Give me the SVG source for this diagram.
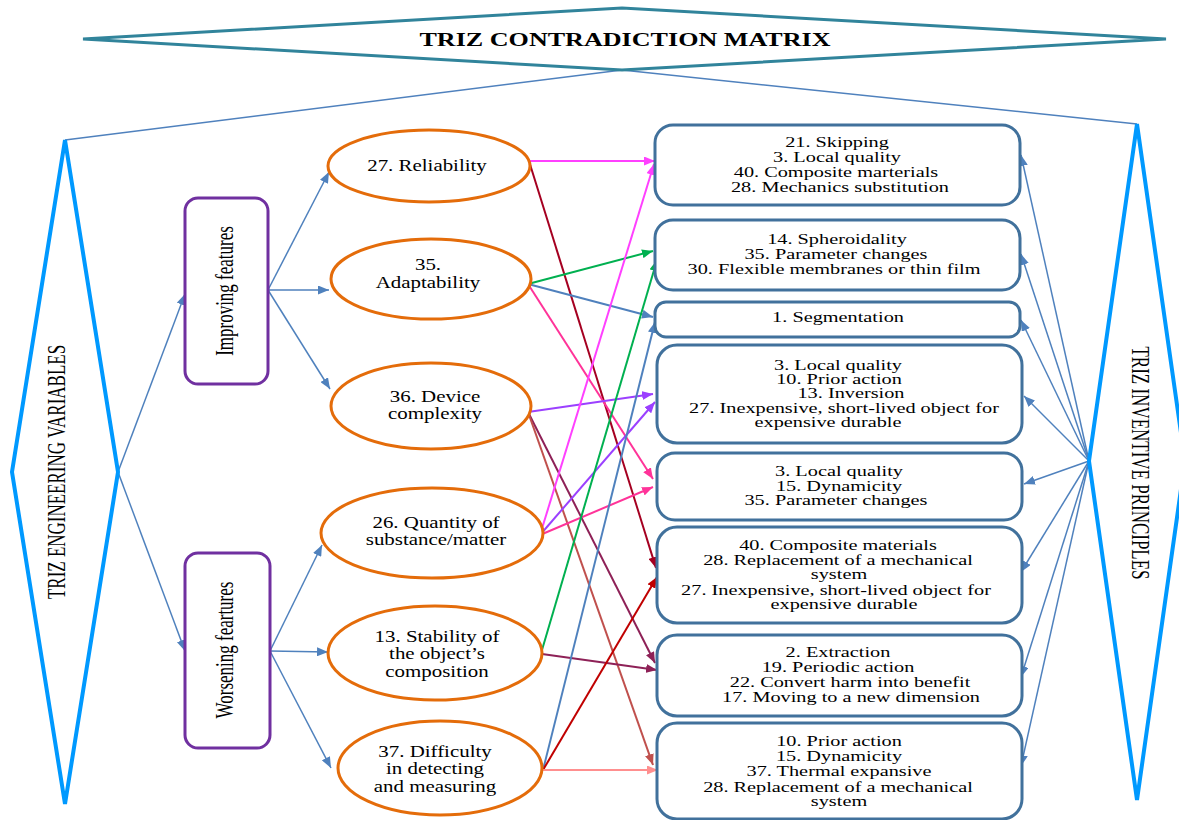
<svg xmlns="http://www.w3.org/2000/svg" width="1179" height="820" viewBox="0 0 1179 820">
<style>
text{font-family:"Liberation Serif","Times New Roman",serif;fill:#000}
.bt{font-family:"Liberation Serif","Times New Roman",serif;font-size:14px;text-anchor:middle}
.et{font-family:"Liberation Serif","Times New Roman",serif;font-size:17px;text-anchor:middle}
.vt{font-family:"Liberation Serif","Times New Roman",serif;font-size:17px;text-anchor:middle}
.ttl{font-family:"Liberation Serif","Times New Roman",serif;font-size:18.5px;font-weight:bold;text-anchor:middle}
.box{fill:#fff;stroke:#41719C;stroke-width:3}
.ell{fill:#fff;stroke:#E46C0A;stroke-width:3}
.feat{fill:#fff;stroke:#7030A0;stroke-width:3}
.dia{fill:#fff;stroke:#0099FF;stroke-width:4}
.c{fill:none;stroke-width:2}
.thin{fill:none;stroke:#4F81BD;stroke-width:1.5}
</style>
<defs>
<marker id="mB" markerUnits="userSpaceOnUse" markerWidth="11" markerHeight="9" refX="11" refY="4.5" orient="auto"><path d="M0,0 L11,4.5 L0,9 z" fill="#4F81BD"/></marker>
<marker id="mM" markerUnits="userSpaceOnUse" markerWidth="11" markerHeight="9" refX="11" refY="4.5" orient="auto"><path d="M0,0 L11,4.5 L0,9 z" fill="#FF40FF"/></marker>
<marker id="mDR" markerUnits="userSpaceOnUse" markerWidth="11" markerHeight="9" refX="11" refY="4.5" orient="auto"><path d="M0,0 L11,4.5 L0,9 z" fill="#A50021"/></marker>
<marker id="mG" markerUnits="userSpaceOnUse" markerWidth="11" markerHeight="9" refX="11" refY="4.5" orient="auto"><path d="M0,0 L11,4.5 L0,9 z" fill="#00B050"/></marker>
<marker id="mP" markerUnits="userSpaceOnUse" markerWidth="11" markerHeight="9" refX="11" refY="4.5" orient="auto"><path d="M0,0 L11,4.5 L0,9 z" fill="#FF3399"/></marker>
<marker id="mV" markerUnits="userSpaceOnUse" markerWidth="11" markerHeight="9" refX="11" refY="4.5" orient="auto"><path d="M0,0 L11,4.5 L0,9 z" fill="#9B40FF"/></marker>
<marker id="mMa" markerUnits="userSpaceOnUse" markerWidth="11" markerHeight="9" refX="11" refY="4.5" orient="auto"><path d="M0,0 L11,4.5 L0,9 z" fill="#8E2157"/></marker>
<marker id="mBr" markerUnits="userSpaceOnUse" markerWidth="11" markerHeight="9" refX="11" refY="4.5" orient="auto"><path d="M0,0 L11,4.5 L0,9 z" fill="#C0504D"/></marker>
<marker id="mR" markerUnits="userSpaceOnUse" markerWidth="11" markerHeight="9" refX="11" refY="4.5" orient="auto"><path d="M0,0 L11,4.5 L0,9 z" fill="#C00000"/></marker>
<marker id="mS" markerUnits="userSpaceOnUse" markerWidth="11" markerHeight="9" refX="11" refY="4.5" orient="auto"><path d="M0,0 L11,4.5 L0,9 z" fill="#FF8F8F"/></marker>
</defs>
<rect width="1179" height="820" fill="#fff"/>

<g id="connectors">
<line class="thin" x1="622" y1="70" x2="65" y2="140"/>
<line class="thin" x1="622" y1="70" x2="1137" y2="124"/>
<g class="thin" marker-end="url(#mB)">
<line x1="118" y1="472" x2="185" y2="294"/>
<line x1="118" y1="472" x2="185" y2="651"/>
<line x1="268" y1="290" x2="329" y2="172"/>
<line x1="268" y1="290" x2="329" y2="290"/>
<line x1="268" y1="290" x2="330" y2="389"/>
<line x1="270" y1="651" x2="322" y2="545"/>
<line x1="270" y1="651" x2="328" y2="652"/>
<line x1="270" y1="651" x2="331" y2="768"/>
<line x1="1089" y1="461" x2="1021" y2="155"/>
<line x1="1089" y1="461" x2="1021" y2="254"/>
<line x1="1089" y1="461" x2="1021" y2="320"/>
<line x1="1089" y1="461" x2="1024" y2="396"/>
<line x1="1089" y1="461" x2="1024" y2="484"/>
<line x1="1089" y1="461" x2="1021" y2="572"/>
<line x1="1089" y1="461" x2="1021" y2="677"/>
<line x1="1089" y1="461" x2="1021" y2="766"/>
</g>
<line class="c" stroke="#FF40FF" marker-end="url(#mM)" x1="529" y1="161" x2="655" y2="161"/>
<line class="c" stroke="#A50021" marker-end="url(#mDR)" x1="529" y1="161" x2="656" y2="568"/>
<line class="c" stroke="#00B050" marker-end="url(#mG)" x1="528" y1="284" x2="653" y2="251"/>
<line class="c" stroke="#4F81BD" marker-end="url(#mB)" x1="528" y1="284" x2="653" y2="317"/>
<line class="c" stroke="#FF3399" marker-end="url(#mP)" x1="528" y1="284" x2="653" y2="479"/>
<line class="c" stroke="#9B40FF" marker-end="url(#mV)" x1="528" y1="412" x2="653" y2="394"/>
<line class="c" stroke="#8E2157" marker-end="url(#mMa)" x1="528" y1="412" x2="655" y2="663"/>
<line class="c" stroke="#C0504D" marker-end="url(#mBr)" x1="528" y1="412" x2="653" y2="765"/>
<line class="c" stroke="#FF40FF" marker-end="url(#mM)" x1="540" y1="535" x2="654" y2="164"/>
<line class="c" stroke="#9B40FF" marker-end="url(#mV)" x1="540" y1="535" x2="655" y2="402"/>
<line class="c" stroke="#FF3399" marker-end="url(#mP)" x1="540" y1="535" x2="653" y2="487"/>
<line class="c" stroke="#00B050" marker-end="url(#mG)" x1="542" y1="650" x2="657" y2="260"/>
<line class="c" stroke="#8E2157" marker-end="url(#mMa)" x1="542" y1="654" x2="657" y2="670"/>
<line class="c" stroke="#4F81BD" marker-end="url(#mB)" x1="543" y1="770" x2="655" y2="322"/>
<line class="c" stroke="#C00000" marker-end="url(#mR)" x1="543" y1="770" x2="657" y2="577"/>
<line class="c" stroke="#FF8F8F" marker-end="url(#mS)" x1="543" y1="770" x2="658" y2="770"/>
</g>

<g id="matrix">
<polygon points="83,39 622,8 1166,39 622,70" fill="none" stroke="#31849B" stroke-width="3"/>
<text class="ttl" transform="translate(625,46) scale(1.41,1)">TRIZ CONTRADICTION MATRIX</text>
</g>

<g id="engineering-variables">
<polygon class="dia" points="65,140 12,472 65,804 118,472"/>
<text class="vt" transform="translate(65,472) rotate(-90) scale(1,1.45)">TRIZ ENGINEERING VARIABLES</text>
</g>

<g id="inventive-principles">
<polygon class="dia" points="1137,124 1089,461 1137,800 1185,461"/>
<text class="vt" transform="translate(1132,463) rotate(90) scale(1,1.45)">TRIZ INVENTIVE PRINCIPLES</text>
</g>

<g id="improving">
<rect class="feat" x="185" y="198" width="83" height="186" rx="13"/>
<text class="vt" transform="translate(233,291) rotate(-90) scale(1,1.45)">Improving features</text>
</g>
<g id="worsening">
<rect class="feat" x="185" y="553" width="85" height="195" rx="13"/>
<text class="vt" transform="translate(233,650) rotate(-90) scale(1,1.45)">Worsening feartures</text>
</g>

<g id="f27">
<ellipse class="ell" cx="429" cy="166" rx="101" ry="36"/>
<text class="et" transform="translate(427,171) scale(1.23,1)">27. Reliability</text>
</g>
<g id="f35">
<ellipse class="ell" cx="431" cy="279" rx="100" ry="40"/>
<text class="et" transform="translate(428,270) scale(1.23,1)">35.</text>
<text class="et" transform="translate(428,288) scale(1.23,1)">Adaptability</text>
</g>
<g id="f36">
<ellipse class="ell" cx="431" cy="406" rx="100" ry="43"/>
<text class="et" transform="translate(435,402) scale(1.23,1)">36. Device</text>
<text class="et" transform="translate(435,419) scale(1.23,1)">complexity</text>
</g>
<g id="f26">
<ellipse class="ell" cx="432" cy="533" rx="111" ry="45"/>
<text class="et" transform="translate(436,528) scale(1.23,1)">26. Quantity of</text>
<text class="et" transform="translate(436,545) scale(1.23,1)">substance/matter</text>
</g>
<g id="f13">
<ellipse class="ell" cx="435" cy="653" rx="107" ry="47"/>
<text class="et" transform="translate(437,642) scale(1.23,1)">13. Stability of</text>
<text class="et" transform="translate(437,659) scale(1.23,1)">the object’s</text>
<text class="et" transform="translate(437,677) scale(1.23,1)">composition</text>
</g>
<g id="f37">
<ellipse class="ell" cx="440" cy="768" rx="102" ry="47"/>
<text class="et" transform="translate(435,757) scale(1.23,1)">37. Difficulty</text>
<text class="et" transform="translate(435,774) scale(1.23,1)">in detecting</text>
<text class="et" transform="translate(435,792) scale(1.23,1)">and measuring</text>
</g>

<g id="p1">
<rect class="box" x="655" y="125" width="365" height="80" rx="18"/>
<text class="bt" transform="translate(837,147) scale(1.45,1)">21. Skipping</text>
<text class="bt" transform="translate(837,162) scale(1.45,1)">3. Local quality</text>
<text class="bt" transform="translate(836,177) scale(1.45,1)">40. Composite marterials</text>
<text class="bt" transform="translate(840,192) scale(1.45,1)">28. Mechanics substitution</text>
</g>
<g id="p2">
<rect class="box" x="655" y="220" width="365" height="70" rx="18"/>
<text class="bt" transform="translate(837,244) scale(1.45,1)">14. Spheroidality</text>
<text class="bt" transform="translate(836,259) scale(1.45,1)">35. Parameter changes</text>
<text class="bt" transform="translate(834,274) scale(1.45,1)">30. Flexible membranes or thin film</text>
</g>
<g id="p3">
<rect class="box" x="655" y="302" width="365" height="35" rx="11"/>
<text class="bt" transform="translate(838,322) scale(1.45,1)">1. Segmentation</text>
</g>
<g id="p4">
<rect class="box" x="657" y="345" width="365" height="98" rx="20"/>
<text class="bt" transform="translate(838,370) scale(1.45,1)">3. Local quality</text>
<text class="bt" transform="translate(839,384) scale(1.45,1)">10. Prior action</text>
<text class="bt" transform="translate(851,398) scale(1.45,1)">13. Inversion</text>
<text class="bt" transform="translate(844,413) scale(1.45,1)">27. Inexpensive, short-lived object for</text>
<text class="bt" transform="translate(828,427) scale(1.45,1)">expensive durable</text>
</g>
<g id="p5">
<rect class="box" x="657" y="453" width="365" height="67" rx="18"/>
<text class="bt" transform="translate(839,476) scale(1.45,1)">3. Local quality</text>
<text class="bt" transform="translate(839,491) scale(1.45,1)">15. Dynamicity</text>
<text class="bt" transform="translate(836,505) scale(1.45,1)">35. Parameter changes</text>
</g>
<g id="p6">
<rect class="box" x="657" y="527" width="365" height="96" rx="20"/>
<text class="bt" transform="translate(838,550) scale(1.45,1)">40. Composite materials</text>
<text class="bt" transform="translate(838,565) scale(1.45,1)">28. Replacement of a mechanical</text>
<text class="bt" transform="translate(839,579) scale(1.45,1)">system</text>
<text class="bt" transform="translate(836,595) scale(1.45,1)">27. Inexpensive, short-lived object for</text>
<text class="bt" transform="translate(844,609) scale(1.45,1)">expensive durable</text>
</g>
<g id="p7">
<rect class="box" x="657" y="635" width="365" height="81" rx="20"/>
<text class="bt" transform="translate(838,657) scale(1.45,1)">2. Extraction</text>
<text class="bt" transform="translate(838,672) scale(1.45,1)">19. Periodic action</text>
<text class="bt" transform="translate(850,687) scale(1.45,1)">22. Convert harm into benefit</text>
<text class="bt" transform="translate(851,702) scale(1.45,1)">17. Moving to a new dimension</text>
</g>
<g id="p8">
<rect class="box" x="657" y="723" width="365" height="96" rx="20"/>
<text class="bt" transform="translate(839,746) scale(1.45,1)">10. Prior action</text>
<text class="bt" transform="translate(839,761) scale(1.45,1)">15. Dynamicity</text>
<text class="bt" transform="translate(839,776) scale(1.45,1)">37. Thermal expansive</text>
<text class="bt" transform="translate(838,792) scale(1.45,1)">28. Replacement of a mechanical</text>
<text class="bt" transform="translate(839,806) scale(1.45,1)">system</text>
</g>
</svg>
